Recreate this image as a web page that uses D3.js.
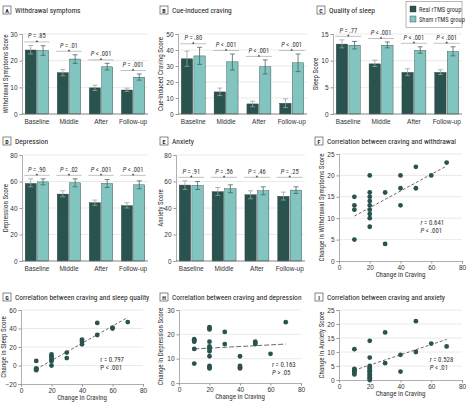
<!DOCTYPE html>
<html><head><meta charset="utf-8">
<script src="https://cdn.jsdelivr.net/npm/d3@7"></script>
<style>
body{margin:0;background:#fff}
svg{display:block;font-family:"Liberation Sans Narrow","Roboto Condensed","Liberation Sans",Arial,sans-serif}
</style></head><body>
<svg id="c" width="468" height="408"></svg>
<script>
// ---------- data ----------
const categories = ["Baseline","Middle","After","Follow-up"];
const seriesNames = ["Real rTMS group","Sham rTMS group"];

const withdrawalReal = [24.0, 15.5, 9.8, 9.0];
const withdrawalRealErr = [[22.5,25.7],[14.3,16.7],[8.8,10.8],[8.5,9.7]];
const withdrawalSham = [23.8, 20.6, 17.7, 13.8];
const withdrawalShamErr = [[22.0,25.6],[19.0,22.2],[16.5,19.0],[12.7,15.0]];
const withdrawalP = ["= .85","= .01","< .001","= .001"];
const withdrawalTicks = [0,10,20,30];

const cravingReal = [34.5, 13.8, 6.3, 6.7];
const cravingRealErr = [[29.8,39.3],[11.5,16.2],[4.5,8.0],[4.0,9.5]];
const cravingSham = [36.3, 32.6, 29.5, 32.0];
const cravingShamErr = [[31.0,41.7],[27.5,37.5],[25.0,33.8],[26.5,37.5]];
const cravingP = ["= .80","< .001","< .001","< .001"];
const cravingTicks = [0,10,20,30,40,50];

const sleepReal = [13.1, 9.4, 7.8, 7.8];
const sleepRealErr = [[12.4,13.9],[8.9,10.1],[7.2,8.5],[7.4,8.3]];
const sleepSham = [12.9, 12.9, 11.9, 11.7];
const sleepShamErr = [[12.2,13.6],[12.4,13.5],[11.4,12.6],[10.9,12.6]];
const sleepP = ["= .77","< .001","< .001","< .001"];
const sleepTicks = [0,5,10,15];

const depressionReal = [58.5, 50.5, 44.0, 41.8];
const depressionRealErr = [[56,62],[48.5,53],[42,46],[40,44]];
const depressionSham = [59.7, 59.0, 58.5, 57.5];
const depressionShamErr = [[57.5,62],[56,62],[55.5,61.5],[54.5,60.5]];
const depressionP = ["= .90","= .02","< .001","< .001"];
const depressionTicks = [0,20,40,60,80];

const anxietyReal = [57.3, 52.3, 50.0, 48.8];
const anxietyRealErr = [[54,60.5],[49.5,55.5],[47,53],[46,52]];
const anxietySham = [57.0, 54.5, 53.0, 53.5];
const anxietyShamErr = [[54,60],[51.5,57.5],[50,56],[51,56]];
const anxietyP = ["= .91","= .56","= .46","= .25"];
const anxietyTicks = [0,20,40,60,80];

const cravingTicksX = [0,20,40,60,80];

const fCraving    = [10,10,10,10,20,20,20,20,20,20,20,20,20,30,30,40,40,40,50,50,60,70];
const fWithdrawal = [15,13,12,5,20,16,15,14,13,12,11,10,8,16,4,20,17,13,22,17,20,23];
const fLine = [[10,10.5],[70,22.2]];
const fTicks = [0,5,10,15,20,25];
const fStats = ["r = 0.641","P < .001"];

const gCraving = [10,10,10,10,20,20,20,20,20,20,30,30,40,40,40,50,50,60,60,70];
const gSleep   = [5,-3,-4,-5,12,10,8,6,5,0,14,8,28,26,23,46,33,40,41,47];
const gLine = [[10,-4],[70,52]];
const gTicks = [-20,0,20,40,60];
const gStats = ["r = 0.797","P < .001"];

const hCraving    = [10,10,10,10,10,20,20,20,20,20,20,20,20,20,20,20,20,30,30,40,40,40,40,50,50,50,60,70];
const hDepression = [18,17.5,17,14,8,23,22.5,22,17,15,14.5,14,13,11,7,6.5,6,21,16,11,7,6.5,6,17,16.5,16,12,25];
const hLine = [[10,14],[70,16]];
const hTicks = [0,10,20,30];
const hStats = ["r = 0.163","P > .05"];

const iCraving = [10,10,10,10,10,10,20,20,20,20,20,20,20,20,20,20,20,20,20,30,30,40,40,50,50,60,70];
const iAnxiety = [11,4,3.5,3,2.5,2,14,8,5,4.5,4,3.5,3,2.5,2,1.5,1,0.5,0,17,6,9,3,21,10,13,12];
const iLine = [[10,3.5],[70,14.5]];
const iTicks = [0,5,10,15,20,25];
const iStats = ["r = 0.528","P < .01"];

// ---------- style ----------
const DARK = "#2a524e", LIGHT = "#82c4bf", GRID = "#e4e4e4", AXIS = "#9a9a9a", TXT = "#333";
const svg = d3.select("#c");

function title(x, y, letter, text){
  const g = svg.append("g");
  g.append("rect").attr("x",x).attr("y",y-7).attr("width",8).attr("height",8)
    .attr("fill","#fff").attr("stroke","#555").attr("stroke-width",0.7);
  g.append("text").attr("x",x+4).attr("y",y-0.5).attr("text-anchor","middle")
    .attr("font-size",6).attr("font-weight","bold").attr("fill","#222").text(letter);
  g.append("text").attr("x",x+12).attr("y",y).attr("font-size",7.5).attr("fill","#222").text(text);
}

function yLabel(x, yc, text){
  svg.append("text").attr("transform",`translate(${x},${yc}) rotate(-90)`)
    .attr("text-anchor","middle").attr("font-size",7).attr("fill",TXT).text(text);
}

function barPanel(o){
  const x = d3.scaleBand().domain(categories).range([o.x0,o.x1]).paddingInner(0.27).paddingOuter(0.1);
  const xs = d3.scaleBand().domain([0,1]).range([0,x.bandwidth()]).paddingInner(0.1);
  const y = d3.scaleLinear().domain([0,d3.max(o.ticks)]).range([o.y0,o.y1]);
  const g = svg.append("g");
  g.selectAll(".gr").data(o.ticks.filter(t=>t>0)).join("line")
    .attr("x1",o.x0).attr("x2",o.x1).attr("y1",d=>y(d)).attr("y2",d=>y(d))
    .attr("stroke",GRID).attr("stroke-width",0.8);
  const ya = g.append("g").attr("transform",`translate(${o.x0},0)`)
    .call(d3.axisLeft(y).tickValues(o.ticks).tickSize(2.5).tickPadding(2).tickFormat(d3.format("d")));
  ya.select(".domain").attr("stroke",AXIS).attr("stroke-width",0.8);
  ya.selectAll(".tick line").attr("stroke",AXIS);
  ya.selectAll("text").attr("font-size",6.5).attr("fill",TXT).attr("font-family",null);
  const xa = g.append("g").attr("transform",`translate(0,${o.y0})`)
    .call(d3.axisBottom(x).tickSize(0).tickPadding(5));
  xa.select(".domain").remove();
  xa.selectAll("text").attr("font-size",6.5).attr("fill",TXT).attr("font-family",null);
  const series = [{v:o.real,e:o.realErr,c:DARK},{v:o.sham,e:o.shamErr,c:LIGHT}];
  series.forEach((s,si)=>{
    const gx = d => x(categories[d])+xs(si);
    g.selectAll(null).data(s.v.map((v,i)=>({v,i}))).join("rect")
      .attr("x",d=>gx(d.i)).attr("width",xs.bandwidth())
      .attr("y",d=>y(d.v)).attr("height",d=>y(0)-y(d.v))
      .attr("fill",s.c).attr("stroke","#243e3b").attr("stroke-width",0.4);
    const eb = g.selectAll(null).data(s.e.map((e,i)=>({e,i}))).join("g")
      .attr("stroke", si===0 ? "#9aa5a3" : "#4d6462").attr("stroke-width",0.8);
    const cx = d => gx(d.i)+xs.bandwidth()/2;
    eb.append("line").attr("x1",cx).attr("x2",cx).attr("y1",d=>y(d.e[0])).attr("y2",d=>y(d.e[1]));
    eb.append("line").attr("x1",d=>cx(d)-2.5).attr("x2",d=>cx(d)+2.5).attr("y1",d=>y(d.e[0])).attr("y2",d=>y(d.e[0]));
    eb.append("line").attr("x1",d=>cx(d)-2.5).attr("x2",d=>cx(d)+2.5).attr("y1",d=>y(d.e[1])).attr("y2",d=>y(d.e[1]));
  });
  g.append("line").attr("x1",o.x0).attr("x2",o.x1).attr("y1",y(0)).attr("y2",y(0)).attr("stroke","#666").attr("stroke-width",0.8);
  const allMax = d3.max(categories.map((c,i)=>Math.max(o.realErr[i][1],o.shamErr[i][1])));
  categories.forEach((c,i)=>{
    const top = o.aligned ? allMax : Math.max(o.realErr[i][1],o.shamErr[i][1]);
    const by = y(top) - 3.5;
    const bx0 = x(c)-1, bx1 = x(c)+x.bandwidth()+1, bc = x(c)+x.bandwidth()/2;
    g.append("line").attr("x1",bx0).attr("x2",bx1).attr("y1",by).attr("y2",by).attr("stroke","#9a9a9a").attr("stroke-width",0.6);
    g.append("path").attr("d",`M${bc-1.3},${by} L${bc},${by-2} L${bc+1.3},${by} Z`).attr("fill","#444");
    const t = g.append("text").attr("x",bc).attr("y",by-3.5).attr("text-anchor","middle").attr("font-size",6.5).attr("fill",TXT);
    t.append("tspan").attr("font-style","italic").text("P");
    t.append("tspan").text(" " + o.p[i]);
  });
}

function scatterPanel(o){
  const x = d3.scaleLinear().domain([0,80]).range([o.x0,o.x1]);
  const y = d3.scaleLinear().domain(d3.extent(o.ticks)).range([o.y0,o.y1]);
  const g = svg.append("g");
  g.selectAll(".gr").data(o.ticks.slice(1)).join("line")
    .attr("x1",o.x0).attr("x2",o.x1).attr("y1",d=>y(d)).attr("y2",d=>y(d))
    .attr("stroke",GRID).attr("stroke-width",0.8);
  const ya = g.append("g").attr("transform",`translate(${o.x0},0)`)
    .call(d3.axisLeft(y).tickValues(o.ticks).tickSize(2.5).tickPadding(2).tickFormat(d3.format("d")));
  ya.select(".domain").attr("stroke",AXIS).attr("stroke-width",0.8);
  ya.selectAll(".tick line").attr("stroke",AXIS);
  ya.selectAll("text").attr("font-size",6.5).attr("fill",TXT).attr("font-family",null);
  const xa = g.append("g").attr("transform",`translate(0,${o.y0})`)
    .call(d3.axisBottom(x).tickValues(cravingTicksX).tickSize(2.5).tickPadding(2).tickFormat(d3.format("d")));
  xa.select(".domain").attr("stroke",AXIS).attr("stroke-width",0.8);
  xa.selectAll(".tick line").attr("stroke",AXIS);
  xa.selectAll("text").attr("font-size",6.5).attr("fill",TXT).attr("font-family",null);
  g.append("text").attr("x",(o.x0+o.x1)/2).attr("y",o.y0+16).attr("text-anchor","middle")
    .attr("font-size",7).attr("fill",TXT).text("Change in Craving");
  yLabel(o.labelX,(o.y0+o.y1)/2,o.ylabel);
  g.append("line").attr("x1",x(o.line[0][0])).attr("y1",y(o.line[0][1]))
    .attr("x2",x(o.line[1][0])).attr("y2",y(o.line[1][1]))
    .attr("stroke","#444").attr("stroke-width",0.8).attr("stroke-dasharray",o.dash||"3,2");
  g.selectAll("circle").data(o.xs.map((v,i)=>[v,o.ys[i]])).join("circle")
    .attr("cx",d=>x(d[0])).attr("cy",d=>y(d[1])).attr("r",2.4).attr("fill",DARK);
  const tx = x(o.statPos[0]), ty = y(o.statPos[1]);
  o.stats.forEach((s,i)=>{
    const t = g.append("text").attr("x",tx).attr("y",ty+i*8).attr("font-size",6.8).attr("fill",TXT);
    t.append("tspan").attr("font-style",o.plain ? "normal" : "italic").text(s[0]);
    t.append("tspan").text(s.slice(1));
  });
}

// ---------- panels ----------
title(3,13,"A","Withdrawal symptoms");
yLabel(8,74,"Withdrawal Symptoms Score");
barPanel({x0:22,x1:148,y0:114,y1:34,ticks:withdrawalTicks,real:withdrawalReal,realErr:withdrawalRealErr,sham:withdrawalSham,shamErr:withdrawalShamErr,p:withdrawalP});

title(160,13,"B","Cue-induced craving");
yLabel(163,74,"Cue-Induced Craving Score");
barPanel({x0:178,x1:307,y0:114,y1:34,ticks:cravingTicks,real:cravingReal,realErr:cravingRealErr,sham:cravingSham,shamErr:cravingShamErr,p:cravingP});

title(317,13,"C","Quality of sleep");
yLabel(318,74,"Sleep Score");
barPanel({x0:333,x1:462,y0:114,y1:34,ticks:sleepTicks,real:sleepReal,realErr:sleepRealErr,sham:sleepSham,shamErr:sleepShamErr,p:sleepP});

title(3,144,"D","Depression");
yLabel(8,208,"Depression Score");
barPanel({x0:22,x1:148,y0:261,y1:155,ticks:depressionTicks,real:depressionReal,realErr:depressionRealErr,sham:depressionSham,shamErr:depressionShamErr,p:depressionP,aligned:true});

title(160,144,"E","Anxiety");
yLabel(163,208,"Anxiety Score");
barPanel({x0:176,x1:305,y0:261,y1:155,ticks:anxietyTicks,real:anxietyReal,realErr:anxietyRealErr,sham:anxietySham,shamErr:anxietyShamErr,p:anxietyP,aligned:true});

title(315,144,"F","Correlation between craving and withdrawal");
scatterPanel({x0:339,x1:462,y0:261,y1:154,ticks:fTicks,xs:fCraving,ys:fWithdrawal,line:fLine,labelX:324,ylabel:"Change in Withdrawal Symptoms Score",stats:fStats,statPos:[53,8.4]});

title(3,300,"G","Correlation between craving and sleep quality");
scatterPanel({x0:21,x1:143,y0:384,y1:310,ticks:gTicks,xs:gCraving,ys:gSleep,line:gLine,labelX:6,ylabel:"Change in Sleep Score",stats:gStats,statPos:[52,3.8],plain:true});

title(160,300,"H","Correlation between craving and depression");
scatterPanel({x0:179,x1:301,y0:383,y1:310,ticks:hTicks,xs:hCraving,ys:hDepression,line:hLine,labelX:163,ylabel:"Change in Depression Score",stats:hStats,statPos:[61,6.6],dash:"5,2"});

title(315,300,"I","Correlation between craving and anxiety");
scatterPanel({x0:339,x1:462,y0:380,y1:310,ticks:iTicks,xs:iCraving,ys:iAnxiety,line:iLine,labelX:324,ylabel:"Change in Anxiety Score",stats:iStats,statPos:[59,6.4]});

// legend
const lg = svg.append("g");
lg.append("rect").attr("x",406).attr("y",1.5).attr("width",56).attr("height",26)
  .attr("fill","#fff").attr("stroke","#888").attr("stroke-width",0.6);
seriesNames.forEach((n,i)=>{
  lg.append("rect").attr("x",410).attr("y",6+i*10).attr("width",6).attr("height",6)
    .attr("fill",i===0?DARK:LIGHT).attr("stroke","#243e3b").attr("stroke-width",0.4);
  lg.append("text").attr("x",419).attr("y",11.5+i*10).attr("font-size",6.5).attr("fill",TXT).text(n);
});
</script>
</body></html>
